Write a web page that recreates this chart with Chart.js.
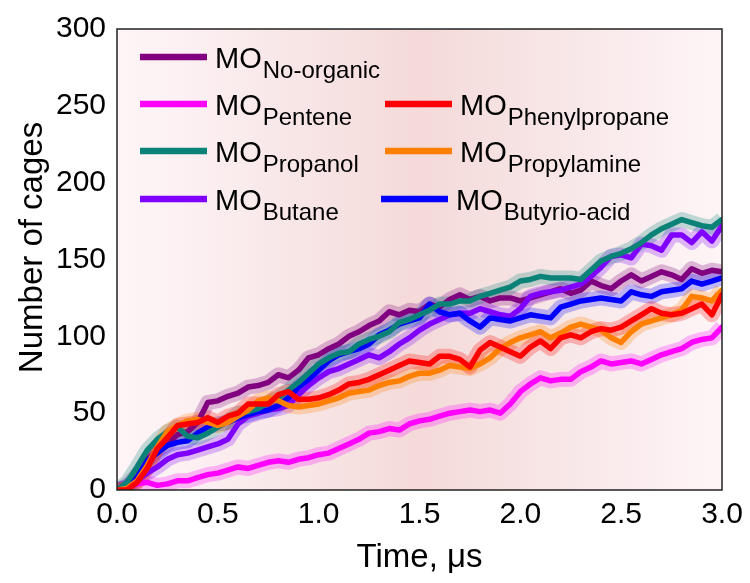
<!DOCTYPE html>
<html>
<head>
<meta charset="utf-8">
<script src="https://cdn.jsdelivr.net/npm/chart.js@4/dist/chart.umd.min.js"></script>
<style>
html,body{margin:0;padding:0;background:#ffffff;}
#wrap{width:750px;height:583px;}
</style>
</head>
<body>
<div id="wrap"><canvas id="c" width="750" height="583"></canvas></div>
<script>
// ---------- DATA ----------
const times = [0,0.05,0.1,0.15,0.2,0.25,0.3,0.35,0.4,0.45,
  0.5,0.55,0.6,0.65,0.7,0.75,0.8,0.85,0.9,0.95,
  1.0,1.05,1.1,1.15,1.2,1.25,1.3,1.35,1.4,1.45,
  1.5,1.55,1.6,1.65,1.7,1.75,1.8,1.85,1.9,1.95,
  2.0,2.05,2.1,2.15,2.2,2.25,2.3,2.35,2.4,2.45,
  2.5,2.55,2.6,2.65,2.7,2.75,2.8,2.85,2.9,2.95,
  3.0];

const noOrganic = [0,3,10,20,26,30,36,38,44,57,
  58,61,63,67,68,70,75,73,78,86,
  88,92,95,100,103,107,110,116,114,117,
  116,121,119,124,127,124,126,123,125,125,
  123,125,127,129,131,128,130,136,133,131,
  136,140,136,139,142,140,137,144,141,143,
  142];

const pentene = [0,2,4,5,3,4,6,6,8,10,
  11,13,15,14,16,18,19,18,20,21,
  23,24,27,30,33,37,38,40,39,43,
  45,46,48,50,51,52,51,52,50,56,
  64,69,73,71,72,72,77,80,84,82,
  83,84,82,85,88,90,92,96,98,99,
  106];

const propanol = [0,5,15,26,33,38,41,35,34,37,
  41,45,50,51,53,57,60,65,70,76,
  82,86,89,90,95,98,100,103,109,111,
  114,117,121,121,123,123,126,128,130,132,
  136,137,139,138,138,138,137,143,149,152,
  154,157,161,166,170,173,176,174,172,171,
  176];

const butane = [0,2,6,11,15,20,23,24,26,28,
  30,33,43,48,50,52,53,55,62,68,
  73,77,79,82,85,88,86,90,95,99,
  104,108,111,114,115,115,118,116,114,113,
  118,126,128,129,130,132,134,139,145,152,
  153,151,160,159,156,166,166,161,168,162,
  172];

const butyrioAcid = [0,2,8,19,24,29,31,32,37,41,
  43,44,47,49,51,52,55,60,67,72,
  78,84,88,90,92,95,101,104,108,110,
  112,121,116,114,115,110,106,112,111,110,
  112,114,113,112,119,121,123,124,125,124,
  123,129,127,126,129,130,131,136,134,136,
  138];

const phenylpropane = [0,0,5,14,27,34,42,43,44,47,
  44,48,50,56,56,56,62,64,59,59,
  60,62,65,69,70,72,75,78,81,84,
  83,82,87,87,85,80,91,96,93,90,
  87,93,97,92,99,101,99,103,105,104,
  106,110,114,118,115,114,115,118,121,114,
  127];

const propylamine = [0,1,6,16,28,38,42,45,46,44,
  42,44,48,52,58,60,58,55,54,55,
  56,58,60,63,64,65,68,70,71,74,
  76,76,78,81,80,79,82,86,92,96,
  99,101,103,99,102,106,108,106,104,99,
  96,103,108,110,112,114,117,126,125,123,
  130];

const seriesNames = ['No-organic','Pentene','Phenylpropane','Propanol','Propylamine','Butane','Butyrio-acid'];
const xTicks = [0,0.5,1.0,1.5,2.0,2.5,3.0];
const yTicks = [0,50,100,150,200,250,300];
const xTitle = 'Time, μs';
const yTitle = 'Number of cages';

// ---------- STYLE ----------
const FONT = "'Liberation Sans', Arial, sans-serif";
const colors = {
  'No-organic':'#800080',
  'Pentene':'#ff00ff',
  'Phenylpropane':'#ff0000',
  'Propanol':'#0b8278',
  'Propylamine':'#ff8000',
  'Butane':'#8000ff',
  'Butyrio-acid':'#0000ff'
};
const valuesByName = {
  'No-organic':noOrganic,
  'Pentene':pentene,
  'Phenylpropane':phenylpropane,
  'Propanol':propanol,
  'Propylamine':propylamine,
  'Butane':butane,
  'Butyrio-acid':butyrioAcid
};
function hexA(hex,a){
  const r=parseInt(hex.slice(1,3),16),g=parseInt(hex.slice(3,5),16),b=parseInt(hex.slice(5,7),16);
  return `rgba(${r},${g},${b},${a})`;
}
function pts(arr){ return arr.map((v,i)=>({x:times[i],y:v})); }

// drawing order: first in list = on top
const drawOrder = ['Phenylpropane','Propylamine','Propanol','Butyrio-acid','Butane','No-organic','Pentene'];
const datasets = [];
drawOrder.forEach(n=>{
  datasets.push({label:n, data:pts(valuesByName[n]), borderColor:colors[n], borderWidth:5.5,
    pointRadius:0, tension:0, order:0, borderJoinStyle:'round', borderCapStyle:'round'});
});
drawOrder.forEach(n=>{
  datasets.push({label:n+'-raw', data:pts(valuesByName[n]), borderColor:hexA(colors[n],0.25), borderWidth:15,
    pointRadius:0, tension:0, order:1, borderJoinStyle:'round', borderCapStyle:'butt'});
});

// legend layout (rows/cols) - styling only
const legendLayout = [
  {name:seriesNames[0], col:0, row:0},
  {name:seriesNames[1], col:0, row:1},
  {name:seriesNames[2], col:1, row:1},
  {name:seriesNames[3], col:0, row:2},
  {name:seriesNames[4], col:1, row:2},
  {name:seriesNames[5], col:0, row:3},
  {name:seriesNames[6], col:1, row:3, shift:-4}
];

const bgPlugin = {
  id:'bgGrad',
  beforeDatasetsDraw(chart){
    const {ctx, chartArea:a} = chart;
    const g = ctx.createLinearGradient(a.left,0,a.right,0);
    g.addColorStop(0,'#fef5f7');
    g.addColorStop(0.12,'#fcf0f2');
    g.addColorStop(0.5,'#f4dad9');
    g.addColorStop(0.88,'#fbeef0');
    g.addColorStop(1,'#fef5f7');
    ctx.save();
    ctx.fillStyle = g;
    ctx.fillRect(a.left,a.top,a.right-a.left,a.bottom-a.top);
    ctx.restore();
  }
};

const framePlugin = {
  id:'frame',
  afterDatasetsDraw(chart){
    const {ctx, chartArea:a} = chart;
    ctx.save();
    ctx.strokeStyle = '#222';
    ctx.lineWidth = 1.5;
    ctx.strokeRect(a.left,a.top,a.right-a.left,a.bottom-a.top);
    ctx.restore();
  }
};

const yTitlePlugin = {
  id:'yTitle',
  afterDraw(chart){
    const {ctx, chartArea:a} = chart;
    ctx.save();
    ctx.translate(33, (a.top+a.bottom)/2 - 12);
    ctx.rotate(-Math.PI/2);
    ctx.fillStyle = '#000';
    ctx.font = `33px ${FONT}`;
    ctx.textAlign = 'center';
    ctx.textBaseline = 'middle';
    ctx.fillText(yTitle, 0, 0);
    ctx.restore();
  }
};

const legendPlugin = {
  id:'subLegend',
  afterDraw(chart){
    const {ctx, chartArea:a} = chart;
    const rowY = [28,75,122,170];
    const colX = [23,268];
    ctx.save();
    legendLayout.forEach(item=>{
      const x0 = a.left + colX[item.col] + (item.shift||0);
      const y = a.top + rowY[item.row];
      ctx.strokeStyle = colors[item.name];
      ctx.lineWidth = 6.5;
      ctx.lineCap = 'butt';
      ctx.beginPath();
      ctx.moveTo(x0,y); ctx.lineTo(x0+67,y); ctx.stroke();
      ctx.fillStyle = '#000';
      ctx.textBaseline = 'alphabetic';
      ctx.textAlign = 'left';
      ctx.font = `29px ${FONT}`;
      const tx = x0 + 75;
      ctx.fillText('MO', tx, y+11);
      const w = ctx.measureText('MO').width;
      ctx.font = `24px ${FONT}`;
      ctx.fillText(item.name, tx + w + 1, y+21);
    });
    ctx.restore();
  }
};

new Chart(document.getElementById('c'), {
  type:'line',
  data:{datasets},
  options:{
    responsive:false,
    animation:false,
    devicePixelRatio:1,
    layout:{padding:{top:26,right:28,left:0,bottom:0}},
    plugins:{legend:{display:false}, tooltip:{enabled:false}},
    elements:{point:{radius:0}},
    scales:{
      x:{
        type:'linear', min:0, max:3,
        afterBuildTicks:s=>{ s.ticks = xTicks.map(v=>({value:v})); },
        ticks:{callback:v=>Number(v).toFixed(1), font:{family:FONT,size:30}, color:'#000', padding:7, maxRotation:0, autoSkip:false},
        grid:{display:false, drawTicks:false},
        border:{display:false},
        title:{display:true, text:xTitle, font:{family:FONT,size:33}, color:'#000', padding:{top:0,bottom:5}},
        afterFit:s=>{ s.height = 93; }
      },
      y:{
        type:'linear', min:0, max:300,
        afterBuildTicks:s=>{ s.ticks = yTicks.map(v=>({value:v})); },
        ticks:{font:{family:FONT,size:30}, color:'#000', padding:11, autoSkip:false},
        grid:{display:false, drawTicks:false},
        border:{display:false},
        title:{display:false},
        afterFit:s=>{ s.width = 117; }
      }
    }
  },
  plugins:[bgPlugin, framePlugin, legendPlugin, yTitlePlugin]
});
</script>
</body>
</html>
